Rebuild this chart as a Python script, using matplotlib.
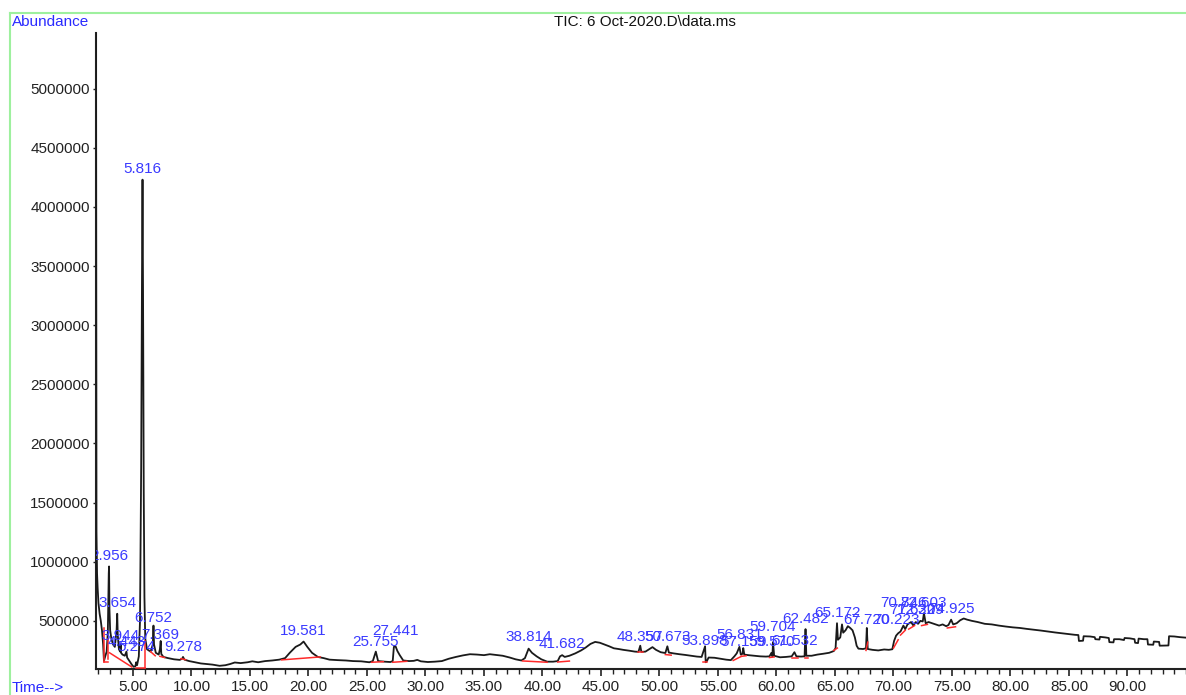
import numpy as np
import matplotlib
matplotlib.use("Agg")
import matplotlib.pyplot as plt
from matplotlib.lines import Line2D
from matplotlib.ticker import MultipleLocator, FixedLocator, FuncFormatter

plt.rcParams['font.family'] = ['Liberation Sans', 'DejaVu Sans']

# Datos del cromatograma (tiempo en min, abundancia en miles)
rt = [1.84, 1.86, 1.88, 1.93, 1.98, 2.05, 2.15, 2.25, 2.35, 2.45, 2.52, 2.6, 2.75, 2.85, 2.93, 2.956, 2.99,
      3.05, 3.15, 3.3, 3.45, 3.6, 3.654, 3.7, 3.8, 3.9, 3.944, 3.98, 4.1, 4.3, 4.443, 4.5, 4.7, 4.9,
      5.05, 5.2, 5.274, 5.35, 5.5, 5.6, 5.7, 5.77, 5.816, 5.86, 5.92, 5.98, 6.05, 6.2, 6.5, 6.7, 6.752,
      6.8, 6.95, 7.2, 7.3, 7.369, 7.42, 7.6, 8.0, 8.5, 9.0, 9.2, 9.278, 9.4, 9.8, 10.3, 10.8, 11.3, 11.8,
      12.4, 12.9, 13.3, 13.7, 14.2, 14.8, 15.2, 15.7, 16.3, 16.9, 17.5, 18.0, 18.4, 18.9, 19.3, 19.581,
      19.9, 20.3, 20.8, 21.3, 21.8, 22.5, 23.2, 23.8, 24.5, 25.2, 25.5, 25.755, 25.95, 26.5, 27.0, 27.2,
      27.3, 27.441, 27.6, 27.8, 28.1, 28.6, 29.0, 29.3, 29.6, 30.2, 30.8, 31.4, 32.0, 32.6, 33.2, 33.8,
      34.4, 35.0, 35.5, 36.0, 36.6, 37.2, 37.7, 38.2, 38.5, 38.814, 39.1, 39.5, 39.9, 40.4, 40.9, 41.3,
      41.5, 41.682, 41.9, 42.3, 42.8, 43.3, 43.7, 44.1, 44.5, 44.9, 45.3, 45.7, 46.1, 46.5, 46.9, 47.4,
      47.9, 48.2, 48.357, 48.45, 48.8, 49.2, 49.4, 49.7, 50.1, 50.5, 50.673, 50.8, 51.2, 51.7, 52.2,
      52.7, 53.2, 53.6, 53.85, 53.898, 53.95, 54.05, 54.2, 54.7, 55.2, 55.7, 56.1, 56.4, 56.6, 56.831,
      56.95, 57.1, 57.159, 57.25, 57.6, 58.1, 58.6, 59.1, 59.4, 59.57, 59.65, 59.704, 59.8, 60.3, 60.8,
      61.3, 61.532, 61.7, 62.1, 62.4, 62.482, 62.55, 63.0, 63.5, 64.0, 64.5, 64.9, 65.05, 65.172, 65.25,
      65.45, 65.6, 65.7, 65.9, 66.1, 66.3, 66.5, 66.7, 66.85, 67.0, 67.4, 67.65, 67.72, 67.8, 68.2,
      68.7, 69.2, 69.6, 69.9, 70.05, 70.223, 70.4, 70.6, 70.846, 71.0, 71.2, 71.5, 71.7, 71.9, 72.1,
      72.3, 72.5, 72.603, 72.75, 73.0, 73.3, 73.6, 73.9, 74.2, 74.5, 74.7, 74.925, 75.1, 75.4, 75.7,
      76.0, 76.3, 76.7, 77.2, 77.8, 78.4, 79.0, 79.6, 80.2, 80.8, 81.4, 82.0, 82.6, 83.2, 83.8, 84.4,
      85.0, 85.5, 85.8, 85.85, 86.2, 86.25, 86.8, 87.2, 87.25, 87.6, 87.65, 88.1, 88.4, 88.45, 88.8,
      88.85, 89.3, 89.7, 89.75, 90.2, 90.6, 90.65, 90.9, 90.95, 91.4, 91.7, 91.75, 92.2, 92.25, 92.7,
      92.75, 93.5, 93.55, 94.0, 94.5, 95.0]
tic_k = [6000, 3000, 1250, 900, 780, 650, 560, 500, 420, 300, 160, 190, 240, 400, 900, 960, 600,
         420, 350, 300, 280, 420, 560, 380, 260, 240, 300, 230, 215, 205, 240, 190, 160, 130,
         112, 115, 150, 125, 200, 500, 1800, 3400, 4230, 3300, 1600, 700, 350, 260, 240, 300, 460,
         300, 230, 215, 260, 330, 220, 195, 185, 175, 170, 180, 195, 172, 160, 150, 140, 135, 130,
         120, 125, 135, 148, 143, 150, 158, 150, 160, 165, 172, 185, 230, 280, 300, 325,
         280, 230, 195, 185, 172, 168, 165, 160, 158, 150, 160, 240, 160, 155, 152, 160,
         280, 285, 245, 210, 165, 160, 162, 170, 158, 152, 155, 160, 180, 195, 208, 218,
         215, 210, 218, 212, 205, 190, 175, 165, 185, 265, 230, 200, 175, 155, 155, 160,
         200, 210, 195, 205, 225, 250, 275, 305, 322, 315, 300, 285, 268, 262, 255, 248,
         240, 238, 290, 238, 240, 265, 278, 255, 235, 228, 285, 232, 225, 218, 212,
         205, 198, 195, 270, 285, 150, 160, 190, 188, 180, 172, 168, 200, 225, 280,
         215, 222, 270, 215, 210, 205, 200, 198, 200, 230, 200, 320, 205, 192, 195,
         200, 235, 200, 198, 200, 430, 205, 205, 215, 222, 230, 245, 270, 480, 340,
         360, 470, 400, 420, 455, 440, 420, 360, 290, 265, 262, 268, 440, 262, 255,
         250, 258, 255, 260, 330, 375, 395, 410, 460, 430, 470, 490, 460, 490, 475,
         500, 495, 565, 480, 490, 480, 470, 460, 470, 455, 465, 510, 470, 480, 505,
         520, 510, 500, 490, 475, 470, 460, 452, 445, 440, 432, 425, 418, 410, 402, 395,
         388, 382, 380, 330, 332, 370, 368, 362, 345, 342, 365, 360, 355, 320, 318,
         345, 345, 338, 355, 352, 345, 315, 312, 350, 345, 345, 300, 298, 325, 322,
         290, 292, 370, 368, 362, 358]

# Picos integrados: tiempo de retención y altura de la etiqueta (miles)
peak_rt = [2.956, 3.654, 3.944, 4.443, 5.274, 5.816, 6.752, 7.369, 9.278, 19.581, 25.755, 27.441,
           38.814, 41.682, 48.357, 50.673, 53.898, 56.831, 57.159, 59.570, 59.704, 61.532, 62.482,
           65.172, 67.720, 70.223, 70.846, 71.620, 72.329, 72.603, 74.925]
peak_lbl_k = [990, 592, 313, 262, 220, 4260, 465, 321, 220, 355, 262, 355,
              305, 245, 305, 305, 271, 321, 262, 262, 389, 271, 457,
              508, 448, 448, 592, 533, 533, 592, 541]

# Líneas base de integración (t0, a0, t1, a1) en miles
baselines = [(2.55, 440, 2.55, 155), (2.55, 155, 2.85, 155), (2.9, 350, 2.9, 180),
             (3.0, 230, 4.9, 110), (5.3, 100, 6.05, 100), (6.05, 100, 6.05, 330),
             (6.5, 240, 6.9, 205), (7.3, 200, 7.7, 190), (9.1, 180, 9.5, 172),
             (17.7, 170, 21.0, 195), (25.4, 150, 26.4, 155), (27.2, 150, 28.4, 158),
             (38.3, 161, 40.4, 150), (41.3, 152, 42.3, 160), (48.2, 235, 48.6, 235),
             (50.5, 215, 51.0, 210), (53.7, 150, 54.1, 150), (56.3, 165, 57.0, 200),
             (57.0, 200, 57.4, 205), (59.4, 190, 59.8, 195), (61.3, 190, 61.8, 190),
             (62.4, 190, 62.7, 190), (64.9, 250, 65.2, 270), (67.65, 250, 67.8, 320),
             (70.0, 270, 70.4, 340), (70.6, 380, 71.0, 420), (71.3, 430, 71.8, 460),
             (72.4, 460, 72.9, 470), (74.6, 440, 75.3, 450)]

W, H = 1186, 695
fig = plt.figure(figsize=(W / 100, H / 100), dpi=100)
ax = fig.add_axes([96 / W, 1 - 669 / H, (W - 96) / W, (669 - 33) / H])

ax.plot(rt, np.array(tic_k) * 1000, color='#1a1a1a', lw=1.3, zorder=3)
for t0, a0, t1, a1 in baselines:
    ax.plot([t0, t1], [a0 * 1000, a1 * 1000], color='#ff2a2a', lw=1.1, zorder=4)

azul = '#3a3aff'
for t, h in zip(peak_rt, peak_lbl_k):
    ax.text(t, h * 1000, f"{t:.3f}", color=azul, fontsize=11, ha='center', va='bottom',
            clip_on=True, zorder=5)

ax.set_xlim(1.84, 95.0)
ax.set_ylim(93000, 5470000)
for s in ['top', 'right']:
    ax.spines[s].set_visible(False)
for s in ['left', 'bottom']:
    ax.spines[s].set_linewidth(1.5)
    ax.spines[s].set_color('#222222')

ax.xaxis.set_major_locator(FixedLocator(np.arange(5, 91, 5)))
ax.xaxis.set_minor_locator(MultipleLocator(1))
ax.xaxis.set_major_formatter(FuncFormatter(lambda v, p: f"{v:.2f}"))
ax.yaxis.set_major_locator(FixedLocator(np.arange(500000, 5000001, 500000)))
ax.yaxis.set_major_formatter(FuncFormatter(lambda v, p: f"{int(v)}"))
ax.tick_params(axis='x', which='major', direction='out', length=5, width=1.2, labelsize=11,
               colors='#222222', pad=3)
ax.tick_params(axis='x', which='minor', direction='out', length=3.5, width=1.0, colors='#222222')
ax.tick_params(axis='y', which='major', direction='out', length=2.5, width=1.0, labelsize=11,
               colors='#222222', pad=2)

fig.text(12 / W, 1 - 22 / H, "Abundance", color='#2a2aff', fontsize=11, ha='left', va='center')
fig.text(12 / W, 1 - 688 / H, "Time-->", color='#2a2aff', fontsize=11, ha='left', va='center')
fig.text(645 / W, 1 - 22 / H, "TIC: 6 Oct-2020.D\\data.ms", color='#111111', fontsize=11,
         ha='center', va='center')

verde = '#9ef09e'
fig.add_artist(Line2D([10 / W, 1], [1 - 13 / H, 1 - 13 / H], transform=fig.transFigure, color=verde, lw=1.5))
fig.add_artist(Line2D([10 / W, 10 / W], [0, 1 - 13 / H], transform=fig.transFigure, color=verde, lw=1.5))

fig.savefig('out.png', dpi=100)
